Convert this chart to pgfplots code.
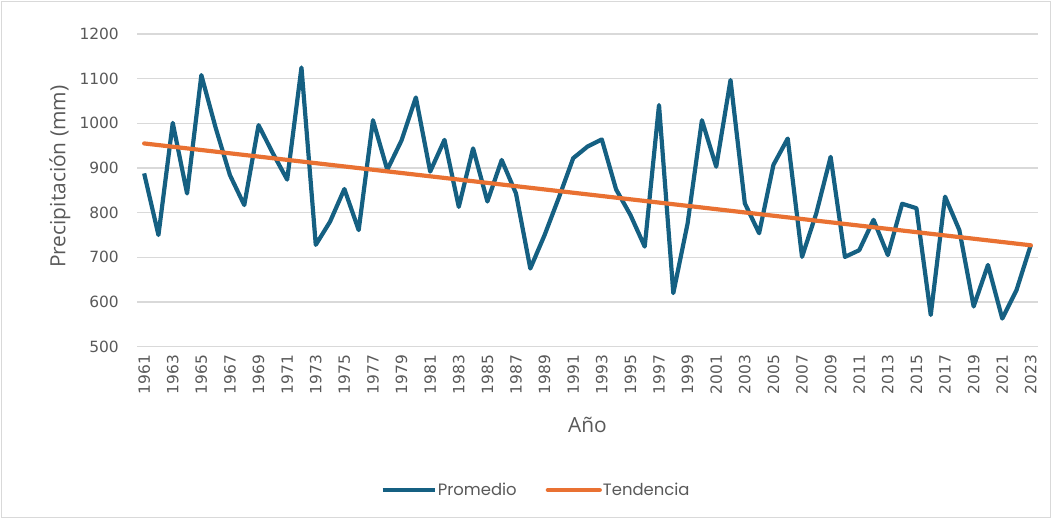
\documentclass[border=0pt]{standalone}
\usepackage{pgfplots}
\pgfplotsset{compat=1.18}
\usepackage{fontspec}
\setmainfont{DejaVu Sans}
\newfontfamily\titlefont{Open Sans}
\newfontfamily\legendfont{Poppins}
\definecolor{promblue}{HTML}{156082}
\definecolor{tendorange}{HTML}{E97132}
\definecolor{gridgray}{HTML}{D9D9D9}
\definecolor{txtgray}{HTML}{595959}
\begin{document}
\begin{tikzpicture}
\path[use as bounding box] (0bp,0bp) rectangle (1052bp,519bp);
\draw[gridgray, line width=1bp] (1.5bp,1.5bp) rectangle (1050.5bp,517.5bp);
\begin{axis}[
  at={(137bp,172.3bp)}, anchor=south west,
  width=901bp, height=312.7bp, scale only axis,
  xmin=1960.5, xmax=2023.5, ymin=500, ymax=1200,
  xtick={1961,1963,...,2023},
  ytick={500,600,...,1200},
  axis line style={draw=none},
  major tick length=0pt,
  tick style={draw=none},
  ymajorgrids, xmajorgrids=false,
  major grid style={gridgray, line width=1.3bp},
  /pgf/number format/1000 sep={},
  /pgf/number format/assume math mode=true,
  ticklabel style={font=\fontsize{15.5}{17}\selectfont, text=txtgray},
  yticklabel style={inner sep=0pt, anchor=east, xshift=-18bp},
  xticklabel style={rotate=90, anchor=east, inner sep=0pt, xshift=-8bp},
  xlabel={Año},
  ylabel={Precipitación (mm)},
  label style={font=\titlefont\fontsize{21}{24}\selectfont, text=txtgray},
  xlabel style={at={(axis description cs:0.5,-0.2504)}, anchor=center},
  ylabel style={at={(axis description cs:-0.0855,0.544)}, anchor=center},
  legend columns=2,
  legend style={at={(0.4423,-0.4583)}, anchor=center, draw=none, fill=none,
    font=\legendfont\fontsize{16.5}{18}\selectfont, text=txtgray,
    nodes={inner sep=1bp},
    /tikz/every even column/.append style={column sep=28bp}},
  legend image code/.code={\draw[#1, line width=4.2bp] (0bp,0bp) -- (52bp,0bp);},
  clip=false,
]
\addplot[promblue, line width=4.2bp, line join=round, mark=none] coordinates {
(1961,888) (1962,750) (1963,1001) (1964,843) (1965,1108) (1966,990)
(1967,884) (1968,817) (1969,996) (1970,933) (1971,874) (1972,1125)
(1973,728) (1974,780) (1975,853) (1976,761) (1977,1007) (1978,896)
(1979,962) (1980,1058) (1981,892) (1982,963) (1983,813) (1984,944)
(1985,825) (1986,918) (1987,843) (1988,675) (1989,750) (1990,834)
(1991,922) (1992,948) (1993,964) (1994,852) (1995,795) (1996,724)
(1997,1041) (1998,620) (1999,776) (2000,1007) (2001,903) (2002,1097)
(2003,821) (2004,754) (2005,907) (2006,966) (2007,701) (2008,799)
(2009,925) (2010,701) (2011,716) (2012,784) (2013,705) (2014,820)
(2015,810) (2016,571) (2017,836) (2018,761) (2019,590) (2020,683)
(2021,563) (2022,627) (2023,728)
};
\addlegendentry{Promedio}
\addplot[tendorange, line width=4.2bp, line cap=round, mark=none] coordinates {
(1961,955) (2023,727)
};
\addlegendentry{Tendencia}
\end{axis}
\end{tikzpicture}
\end{document}
